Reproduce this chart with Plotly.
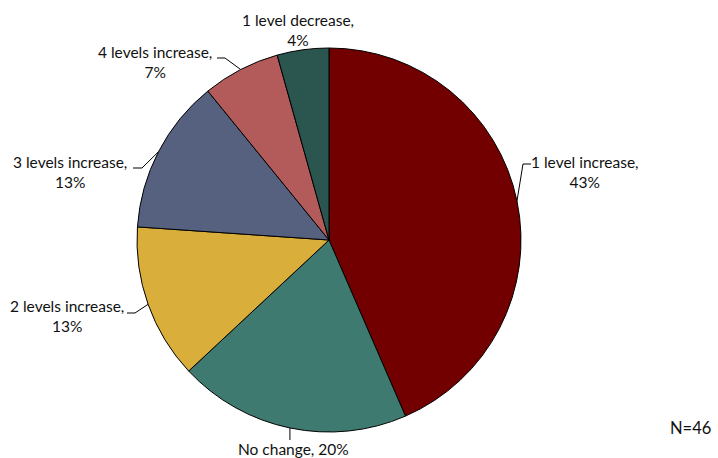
import math
import plotly.graph_objects as go

categories = ["1 level increase", "No change", "2 levels increase",
              "3 levels increase", "4 levels increase", "1 level decrease"]
counts = [20, 9, 6, 6, 3, 2]
percent_labels = ["43%", "20%", "13%", "13%", "7%", "4%"]
colors = ["#720000", "#3E7A6F", "#D9AE3A", "#56617F", "#B35B5A", "#2B554F"]
n_label = "N=46"

W, H = 718, 458
CX, CY, R = 329, 240, 192

fig = go.Figure(go.Pie(
    labels=categories, values=counts, sort=False, direction="clockwise",
    rotation=0, textinfo="none", hoverinfo="label+percent",
    marker=dict(colors=colors, line=dict(color="#000000", width=1)),
    domain=dict(x=[(CX - R) / W, (CX + R) / W], y=[1 - (CY + R) / H, 1 - (CY - R) / H]),
    showlegend=False,
))

def px2paper(x, y):
    return x / W, 1 - y / H

total = sum(counts)
cum = 0
mids = []
for c in counts:
    a0 = cum / total * 360
    cum += c
    a1 = cum / total * 360
    mids.append(math.radians((a0 + a1) / 2))

def edge(i):
    a = mids[i]
    return CX + R * math.sin(a), CY - R * math.cos(a)

# label layout: (text center x, center y, two-line?) and elbow points
label_pos = {
    0: (585, 172, True),
    1: (293, 449, False),
    2: (67, 316, True),
    3: (70, 172, True),
    4: (155, 62, True),
    5: (298, 30, True),
}
elbows = {
    0: [(531, 164), (523, 164)],
    2: [(127, 313), (135, 313)],
    3: [(133, 168), (142, 168)],
    4: [(217, 58), (225, 58)],
}

FS = 15.5
annotations = []
for i, cat in enumerate(categories):
    x, y, two = label_pos[i]
    txt = f"{cat},<br>{percent_labels[i]}" if two else f"{cat}, {percent_labels[i]}"
    px, py = px2paper(x, y)
    annotations.append(dict(x=px, y=py, xref="paper", yref="paper", text=txt,
                            showarrow=False, xanchor="center", yanchor="middle",
                            align="center", font=dict(size=FS, color="#111111")))

shapes = []
def line(p, q):
    a = px2paper(*p); b = px2paper(*q)
    shapes.append(dict(type="line", xref="paper", yref="paper", x0=a[0], y0=a[1],
                       x1=b[0], y1=b[1], line=dict(color="#000000", width=1)))

for i, pts in elbows.items():
    line(pts[0], pts[1])
    line(pts[1], edge(i))
ex, ey = edge(1)
line((ex, ey), (ex, 440))

nx, ny = px2paper(690, 428)
annotations.append(dict(x=nx, y=ny, xref="paper", yref="paper", text=n_label,
                        showarrow=False, xanchor="center", yanchor="middle",
                        font=dict(size=16.5, color="#111111")))

fig.update_layout(
    width=W, height=H, margin=dict(l=0, r=0, t=0, b=0),
    paper_bgcolor="white", plot_bgcolor="white",
    font=dict(family="Lato, Carlito, sans-serif"),
    annotations=annotations, shapes=shapes,
)
fig.write_html("out.html")
